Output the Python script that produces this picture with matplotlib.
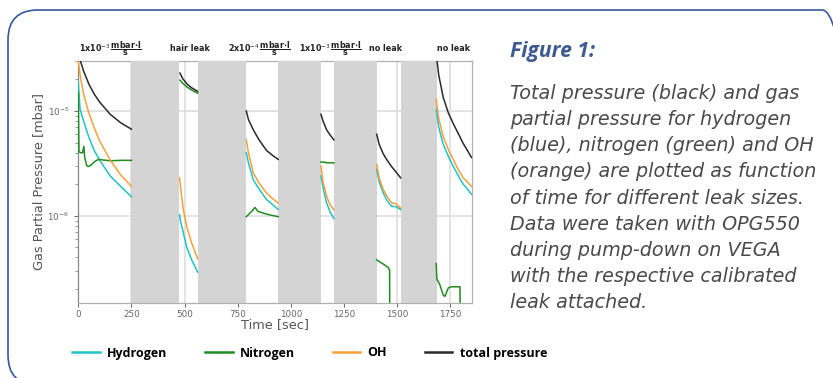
import numpy as np
import matplotlib
matplotlib.use("Agg")
import matplotlib.pyplot as plt
from matplotlib.patches import FancyBboxPatch
from matplotlib.transforms import IdentityTransform, blended_transform_factory

nan = np.nan

# ---- data (sections separated by NaN) ----
total_t = [0, 10, 25, 50, 75, 100, 150, 200, 250, nan,
           478, 490, 510, 530, 561, nan,
           790, 800, 823, 850, 885, 915, 940, nan,
           1141, 1152, 1168, 1184, 1202, nan,
           1403, 1415, 1434, 1450, 1473, 1495, 1516, nan,
           1683, 1695, 1716, 1740, 1763, 1785, 1810, 1830, 1849]
total_p = [4.0e-5, 3.0e-5, 2.4e-5, 1.8e-5, 1.45e-5, 1.22e-5, 9.3e-6, 7.7e-6, 6.7e-6, nan,
           2.3e-5, 2.05e-5, 1.82e-5, 1.68e-5, 1.54e-5, nan,
           1.0e-5, 8.3e-6, 6.6e-6, 5.3e-6, 4.2e-6, 3.75e-6, 3.45e-6, nan,
           9.3e-6, 7.9e-6, 6.6e-6, 5.9e-6, 5.3e-6, nan,
           6.0e-6, 4.8e-6, 3.9e-6, 3.45e-6, 2.95e-6, 2.6e-6, 2.3e-6, nan,
           3.5e-5, 2.2e-5, 1.35e-5, 9.6e-6, 7.6e-6, 6.2e-6, 4.9e-6, 4.2e-6, 3.6e-6]

oh_t = [0, 10, 25, 50, 75, 100, 150, 200, 250, nan,
        476, 486, 494, 510, 533, 561, nan,
        790, 800, 823, 850, 885, 915, 940, nan,
        1141, 1152, 1168, 1184, 1202, nan,
        1403, 1415, 1434, 1450, 1473, 1495, 1516, nan,
        1683, 1695, 1716, 1740, 1763, 1785, 1810, 1830, 1849]
oh_p = [3.0e-5, 2.1e-5, 1.45e-5, 9.5e-6, 6.9e-6, 5.2e-6, 3.4e-6, 2.45e-6, 1.9e-6, nan,
        2.3e-6, 1.54e-6, 1.14e-6, 7.9e-7, 5.5e-7, 3.9e-7, nan,
        5.3e-6, 4.0e-6, 2.56e-6, 2.05e-6, 1.65e-6, 1.45e-6, 1.32e-6, nan,
        2.97e-6, 2.05e-6, 1.53e-6, 1.27e-6, 1.14e-6, nan,
        3.1e-6, 2.3e-6, 1.78e-6, 1.55e-6, 1.33e-6, 1.3e-6, 1.18e-6, nan,
        1.29e-5, 8.5e-6, 5.7e-6, 4.3e-6, 3.45e-6, 2.8e-6, 2.3e-6, 2.1e-6, 1.9e-6]

hydrogen_t = [0, 8, 25, 50, 75, 100, 150, 200, 250, nan,
              476, 480, 491, 510, 533, 561, nan,
              790, 800, 823, 850, 885, 915, 940, nan,
              1141, 1152, 1168, 1184, 1202, nan,
              1403, 1415, 1434, 1450, 1473, 1495, 1516, nan,
              1683, 1695, 1716, 1740, 1763, 1785, 1810, 1830, 1849]
hydrogen_p = [1.9e-5, 1.05e-5, 8.0e-6, 5.6e-6, 4.2e-6, 3.4e-6, 2.4e-6, 1.9e-6, 1.52e-6, nan,
              1.02e-6, 9.0e-7, 7.3e-7, 5.0e-7, 3.8e-7, 2.9e-7, nan,
              4.0e-6, 3.2e-6, 2.2e-6, 1.8e-6, 1.43e-6, 1.27e-6, 1.15e-6, nan,
              2.4e-6, 1.8e-6, 1.32e-6, 1.09e-6, 9.4e-7, nan,
              2.76e-6, 2.1e-6, 1.65e-6, 1.42e-6, 1.23e-6, 1.22e-6, 1.14e-6, nan,
              1.03e-5, 7.0e-6, 4.8e-6, 3.7e-6, 2.97e-6, 2.45e-6, 2.0e-6, 1.8e-6, 1.6e-6]

nitrogen_t = [0, 3, 10, 20, 26, 30, 40, 47, 60, 78, 95, 120, 150, 200, 250, nan,
              478, 490, 510, 530, 561, nan,
              790, 815, 831, 845, 870, 900, 940, nan,
              1141, 1155, 1170, 1185, 1202, nan,
              1403, 1420, 1440, 1458, 1464, 1466, 1516, nan,
              1683, 1686, 1700, 1716, 1724, 1740, 1755, 1795, 1798, 1849]
nitrogen_p = [1.5e-5, 4.1e-6, 4.0e-6, 4.0e-6, 4.6e-6, 3.6e-6, 3.0e-6, 2.95e-6, 3.05e-6, 3.3e-6, 3.45e-6, 3.4e-6, 3.35e-6, 3.38e-6, 3.38e-6, nan,
              1.97e-5, 1.85e-5, 1.7e-5, 1.6e-5, 1.48e-5, nan,
              9.8e-7, 1.1e-6, 1.2e-6, 1.1e-6, 1.06e-6, 1.02e-6, 9.8e-7, nan,
              3.25e-6, 3.25e-6, 3.2e-6, 3.2e-6, 3.2e-6, nan,
              3.8e-7, 3.6e-7, 3.4e-7, 3.2e-7, 3.0e-7, 1e-8, 1e-8, nan,
              3.5e-7, 2.5e-7, 2.2e-7, 1.75e-7, 1.7e-7, 2.05e-7, 2.1e-7, 2.1e-7, 1e-8, 1e-8]

gap_starts = [250, 561, 940, 1202, 1516]
gap_ends = [475, 788, 1141, 1403, 1685]

section_labels = [r'1x10$^{-3}\,\dfrac{\mathbf{mbar{\cdot}l}}{\mathbf{s}}$', 'hair leak',
                  r'2x10$^{-4}\,\dfrac{\mathbf{mbar{\cdot}l}}{\mathbf{s}}$',
                  r'1x10$^{-3}\,\dfrac{\mathbf{mbar{\cdot}l}}{\mathbf{s}}$', 'no leak', 'no leak']
label_pos = [150, 525, 853, 1188, 1447, 1763]

caption_title = "Figure 1:"
caption_lines = ["Total pressure (black) and gas",
                 "partial pressure for hydrogen",
                 "(blue), nitrogen (green) and OH",
                 "(orange) are plotted as function",
                 "of time for different leak sizes.",
                 "Data were taken with OPG550",
                 "during pump-down on VEGA",
                 "with the respective calibrated",
                 "leak attached."]

W, H = 833, 378
fig = plt.figure(figsize=(W / 100, H / 100), dpi=100)
fig.patch.set_facecolor('white')

# rounded border
box = FancyBboxPatch((8, -7), 844, 375, boxstyle="round,pad=0,rounding_size=30",
                     transform=IdentityTransform(), fill=False, edgecolor='#35589a',
                     linewidth=1.2)
fig.add_artist(box)

ax = fig.add_axes([78.3 / W, 1 - 302.7 / H, 393.4 / W, 241.7 / H])
ax.set_yscale('log')

c_h, c_n, c_o, c_t = '#22c2c8', '#1f8c1f', '#f7a03a', '#2a2a2a'
l1, = ax.plot(hydrogen_t, hydrogen_p, color=c_h, lw=1.1, label='Hydrogen', zorder=3)
l2, = ax.plot(nitrogen_t, nitrogen_p, color=c_n, lw=1.1, label='Nitrogen', zorder=3)
l3, = ax.plot(oh_t, oh_p, color=c_o, lw=1.1, label='OH', zorder=3)
l4, = ax.plot(total_t, total_p, color=c_t, lw=1.1, label='total pressure', zorder=3)

for s, e in zip(gap_starts, gap_ends):
    ax.axvspan(s, e, color='#d4d4d4', lw=0, zorder=2.6)

ax.set_xlim(0, 1850)
ax.set_ylim(1.48e-7, 3.0e-5)
ax.set_xticks([0, 250, 500, 750, 1000, 1250, 1500, 1750])
ax.grid(True, which='major', color='#dedede', lw=1.2, zorder=0)
ax.set_axisbelow(True)
for sp in ax.spines.values():
    sp.set_color('#b0b0b0')
    sp.set_linewidth(0.9)
ax.spines['left'].set_color('#888888')
ax.spines['bottom'].set_zorder(3)
ax.tick_params(axis='both', which='major', labelsize=6.3, colors='#666666', length=3, width=0.7)
ax.tick_params(axis='y', which='minor', length=2, width=0.6, colors='#888888')
ax.tick_params(axis='x', pad=2)

ax.set_ylabel('Gas Partial Pressure [mbar]', fontsize=9.3, color='#555555')
ax.yaxis.set_label_coords(-0.1, 0.5)
ax.yaxis.label.set_va('center')
ax.set_xlabel('Time [sec]', fontsize=9.3, color='#555555')
ax.xaxis.set_label_coords(0.5, -0.092)
ax.xaxis.label.set_va('center')

trans = blended_transform_factory(ax.transData, ax.transAxes)
for lab, xp in zip(section_labels, label_pos):
    ax.text(xp, 1.05, lab, transform=trans, ha='center', va='center', fontsize=5.8,
            fontweight='bold', color='#222222')

# caption
fig.text(510 / W, 1 - 51.7 / H, caption_title, fontsize=15.2, fontstyle='italic',
         fontweight='bold', family='Open Sans', color='#3d5b8f', va='center', ha='left')
for i, line in enumerate(caption_lines):
    fig.text(510 / W, 1 - (93.3 + 26.2 * i) / H, line, fontsize=13.8, fontstyle='oblique',
             family='DejaVu Sans', color='#4a4a4a', va='center', ha='left')

leg = fig.legend(handles=[l1, l2, l3, l4], loc='center left', bbox_to_anchor=(61 / W, 1 - 353 / H),
                 ncol=4, frameon=False, handlelength=2.2, handletextpad=0.6, columnspacing=3.0,
                 prop={'family': 'Open Sans', 'weight': 'bold', 'size': 9})
for lh in leg.get_lines():
    lh.set_linewidth(1.8)

fig.savefig('out.png', dpi=100)
